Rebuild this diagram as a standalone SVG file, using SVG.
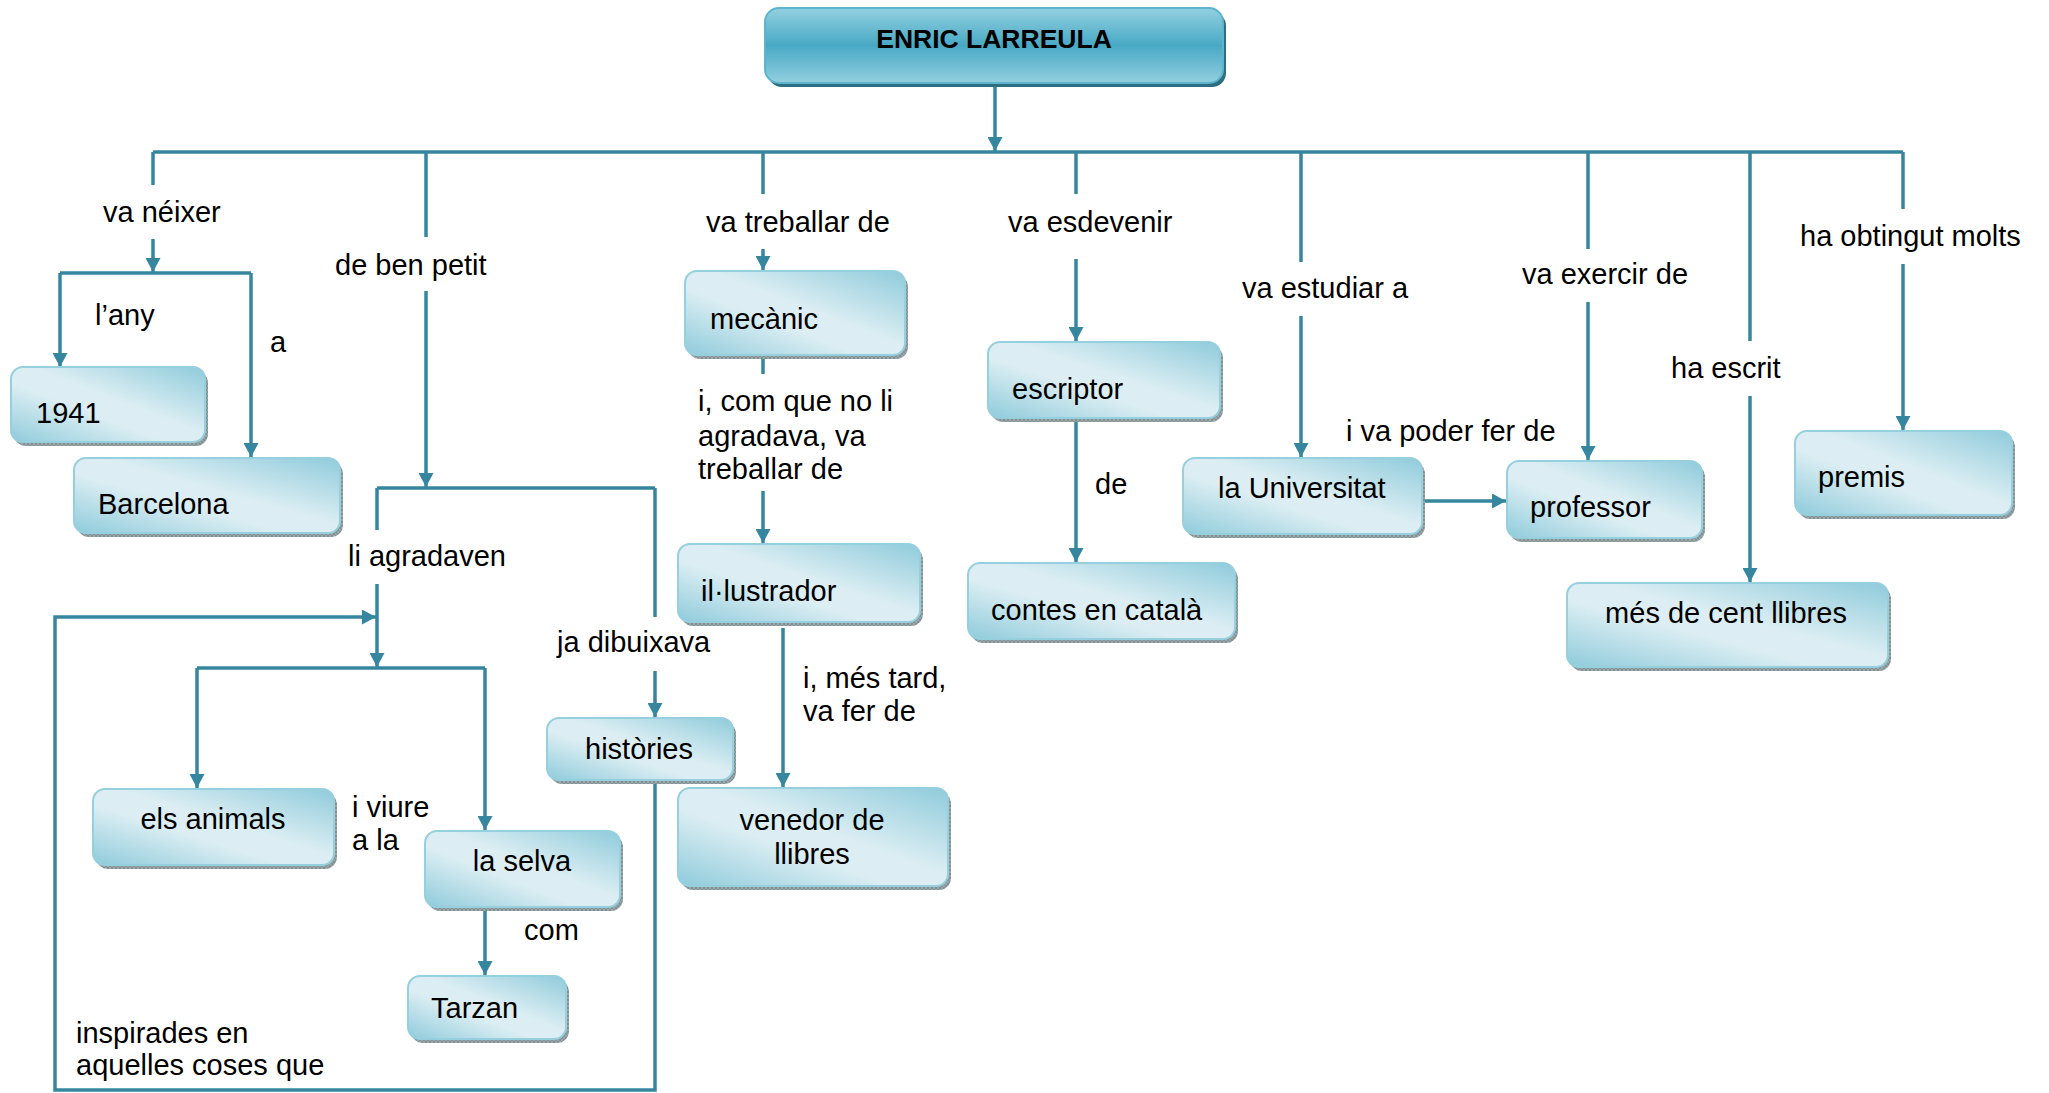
<svg xmlns="http://www.w3.org/2000/svg" width="2049" height="1093" viewBox="0 0 2049 1093">
<defs>
<linearGradient id="gBox" x1="1" y1="0" x2="0" y2="1">
<stop offset="0" stop-color="#8FCBDB"/>
<stop offset="0.45" stop-color="#DCEEF3"/>
<stop offset="0.6" stop-color="#DCEEF3"/>
<stop offset="1" stop-color="#8FCBDB"/>
</linearGradient>
<linearGradient id="gTitle" x1="0" y1="0" x2="0" y2="1">
<stop offset="0" stop-color="#93D0E0"/>
<stop offset="0.5" stop-color="#48A9C5"/>
<stop offset="1" stop-color="#93CFDF"/>
</linearGradient>
<pattern id="hatch" width="4" height="4" patternUnits="userSpaceOnUse">
<rect width="4" height="4" fill="#9AA7AB"/>
<path d="M0,0 L4,4 M4,0 L0,4" stroke="#7C8A8E" stroke-width="0.8"/>
</pattern>
<marker id="arr" markerUnits="userSpaceOnUse" markerWidth="15" markerHeight="15" refX="14" refY="7.5" orient="auto">
<path d="M0,0 L14,7.5 L0,15 z" fill="#35869E"/>
</marker>
</defs>
<style>
.box{fill:url(#gBox);stroke:#96CFDE;stroke-width:2}
.sh{fill:url(#hatch)}
.t{font-family:"Liberation Sans",Arial,sans-serif;font-size:29px;fill:#000}
.c{text-anchor:middle}
.ln{fill:none;stroke:#35869E;stroke-width:3.5}
.a{marker-end:url(#arr)}
</style>

<g id="connectors">
<path class="ln a" d="M995,83 V151"/>
<path class="ln" d="M153,152 H1903"/>
<!-- branch 1 -->
<path class="ln" d="M153,152 V185"/>
<path class="ln a" d="M153,239 V272"/>
<path class="ln" d="M60,273 H251"/>
<path class="ln a" d="M60,273 V367"/>
<path class="ln a" d="M251,273 V457"/>
<!-- branch 2 -->
<path class="ln" d="M426,152 V237"/>
<path class="ln a" d="M426,291 V487"/>
<path class="ln" d="M377,488 H655"/>
<path class="ln" d="M377,488 V530"/>
<path class="ln a" d="M377,584 V667"/>
<path class="ln" d="M655,488 V617"/>
<path class="ln a" d="M655,671 V717"/>
<path class="ln" d="M197,668 H485"/>
<path class="ln a" d="M197,668 V788"/>
<path class="ln a" d="M485,668 V830"/>
<path class="ln a" d="M485,907 V975"/>
<path class="ln a" d="M655,780 V1090 H55 V617 H376"/>
<!-- branch 3 -->
<path class="ln" d="M763,152 V194"/>
<path class="ln a" d="M763,249 V270"/>
<path class="ln" d="M763,355 V374"/>
<path class="ln a" d="M763,491 V543"/>
<path class="ln a" d="M783,628 V787"/>
<!-- branch 4 -->
<path class="ln" d="M1076,152 V194"/>
<path class="ln a" d="M1076,259 V341"/>
<path class="ln a" d="M1076,418 V562"/>
<!-- branch 5 -->
<path class="ln" d="M1301,152 V262"/>
<path class="ln a" d="M1301,316 V457"/>
<path class="ln a" d="M1422,501 H1506"/>
<!-- branch 6 -->
<path class="ln" d="M1588,152 V249"/>
<path class="ln a" d="M1588,302 V460"/>
<!-- branch 7 -->
<path class="ln" d="M1750,152 V341"/>
<path class="ln a" d="M1750,396 V582"/>
<!-- branch 8 -->
<path class="ln" d="M1903,152 V209"/>
<path class="ln a" d="M1903,264 V430"/>
</g>

<g id="labels">
<text class="t" x="103" y="222">va néixer</text>
<text class="t" x="95" y="325">l’any</text>
<text class="t" x="270" y="352">a</text>
<text class="t" x="335" y="275">de ben petit</text>
<text class="t" x="348" y="566">li agradaven</text>
<text class="t" x="557" y="652">ja dibuixava</text>
<text class="t" x="352" y="817">i viure</text>
<text class="t" x="352" y="850">a la</text>
<text class="t" x="524" y="940">com</text>
<text class="t" x="76" y="1043">inspirades en</text>
<text class="t" x="76" y="1075">aquelles coses que</text>
<text class="t" x="706" y="232">va treballar de</text>
<text class="t" x="698" y="411">i, com que no li</text>
<text class="t" x="698" y="446">agradava, va</text>
<text class="t" x="698" y="479">treballar de</text>
<text class="t" x="803" y="688">i, més tard,</text>
<text class="t" x="803" y="721">va fer de</text>
<text class="t" x="1008" y="232">va esdevenir</text>
<text class="t" x="1095" y="494">de</text>
<text class="t" x="1242" y="298">va estudiar a</text>
<text class="t" x="1346" y="441">i va poder fer de</text>
<text class="t" x="1522" y="284">va exercir de</text>
<text class="t" x="1671" y="378">ha escrit</text>
<text class="t" x="1800" y="246">ha obtingut molts</text>
</g>

<g id="n-title">
<rect x="768" y="12" width="458" height="75" rx="14" fill="#2C6F80"/>
<rect x="765" y="8" width="458" height="75" rx="14" fill="url(#gTitle)" stroke="#5DB4CC" stroke-width="2"/>
<text x="994" y="48" text-anchor="middle" font-family="Liberation Sans,Arial,sans-serif" font-size="26.5" font-weight="bold">ENRIC LARREULA</text>
</g>
<g id="n-1941">
<rect class="sh" x="14" y="371" width="194" height="75" rx="12"/>
<rect class="box" x="11" y="367" width="194" height="75" rx="12"/>
<text class="t" x="36" y="423">1941</text>
</g>
<g id="n-barcelona">
<rect class="sh" x="77" y="462" width="266" height="75" rx="12"/>
<rect class="box" x="74" y="458" width="266" height="75" rx="12"/>
<text class="t" x="98" y="514">Barcelona</text>
</g>
<g id="n-animals">
<rect class="sh" x="96" y="793" width="241" height="76" rx="12"/>
<rect class="box" x="93" y="789" width="241" height="76" rx="12"/>
<text class="t c" x="213" y="829">els animals</text>
</g>
<g id="n-selva">
<rect class="sh" x="428" y="835" width="195" height="76" rx="12"/>
<rect class="box" x="425" y="831" width="195" height="76" rx="12"/>
<text class="t c" x="522" y="871">la selva</text>
</g>
<g id="n-tarzan">
<rect class="sh" x="411" y="980" width="158" height="63" rx="12"/>
<rect class="box" x="408" y="976" width="158" height="63" rx="12"/>
<text class="t" x="431" y="1018">Tarzan</text>
</g>
<g id="n-histories">
<rect class="sh" x="550" y="722" width="186" height="62" rx="12"/>
<rect class="box" x="547" y="718" width="186" height="62" rx="12"/>
<text class="t c" x="639" y="759">històries</text>
</g>
<g id="n-mecanic">
<rect class="sh" x="688" y="275" width="220" height="84" rx="12"/>
<rect class="box" x="685" y="271" width="220" height="84" rx="12"/>
<text class="t" x="710" y="329">mecànic</text>
</g>
<g id="n-illustrador">
<rect class="sh" x="681" y="548" width="242" height="78" rx="12"/>
<rect class="box" x="678" y="544" width="242" height="78" rx="12"/>
<text class="t" x="701" y="601">il·lustrador</text>
</g>
<g id="n-venedor">
<rect class="sh" x="681" y="792" width="270" height="98" rx="12"/>
<rect class="box" x="678" y="788" width="270" height="98" rx="12"/>
<text class="t c" x="812" y="830">venedor de</text>
<text class="t c" x="812" y="864">llibres</text>
</g>
<g id="n-escriptor">
<rect class="sh" x="991" y="346" width="232" height="76" rx="12"/>
<rect class="box" x="988" y="342" width="232" height="76" rx="12"/>
<text class="t" x="1012" y="399">escriptor</text>
</g>
<g id="n-contes">
<rect class="sh" x="971" y="567" width="267" height="76" rx="12"/>
<rect class="box" x="968" y="563" width="267" height="76" rx="12"/>
<text class="t" x="991" y="620">contes en català</text>
</g>
<g id="n-universitat">
<rect class="sh" x="1186" y="462" width="239" height="76" rx="12"/>
<rect class="box" x="1183" y="458" width="239" height="76" rx="12"/>
<text class="t" x="1218" y="498">la Universitat</text>
</g>
<g id="n-professor">
<rect class="sh" x="1510" y="465" width="195" height="77" rx="12"/>
<rect class="box" x="1507" y="461" width="195" height="77" rx="12"/>
<text class="t" x="1530" y="517">professor</text>
</g>
<g id="n-llibres">
<rect class="sh" x="1570" y="587" width="321" height="84" rx="12"/>
<rect class="box" x="1567" y="583" width="321" height="84" rx="12"/>
<text class="t c" x="1726" y="623">més de cent llibres</text>
</g>
<g id="n-premis">
<rect class="sh" x="1798" y="435" width="217" height="84" rx="12"/>
<rect class="box" x="1795" y="431" width="217" height="84" rx="12"/>
<text class="t" x="1818" y="487">premis</text>
</g>
</svg>
